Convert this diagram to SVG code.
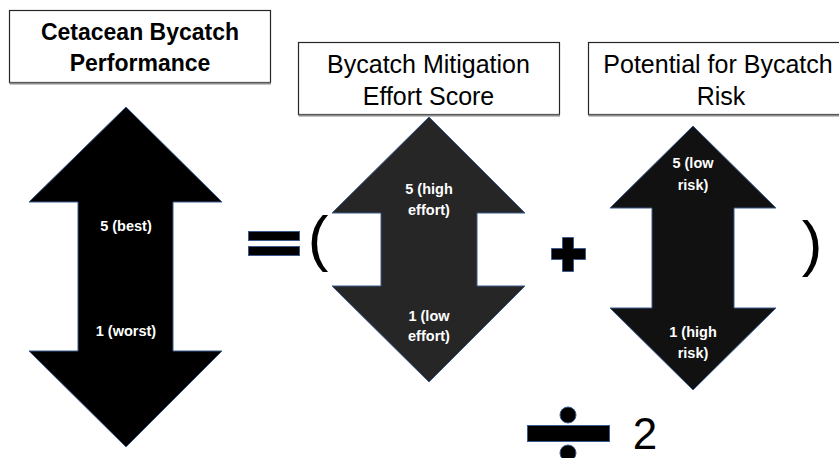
<svg xmlns="http://www.w3.org/2000/svg" width="839" height="458" viewBox="0 0 839 458">
<style>
.box{fill:#fff;stroke:#262626;stroke-width:1.2}
.shadow{stroke:#8c8c8c;stroke-width:2;fill:none}
.title{font-family:"Liberation Sans",Arial,sans-serif;font-size:23px;font-weight:bold;fill:#000;text-anchor:middle}
.head{font-family:"Liberation Sans",Arial,sans-serif;font-size:25px;fill:#000;text-anchor:middle}
.arrow{stroke:#3b5b8c;stroke-width:1}
.lbl{font-family:"Liberation Sans",Arial,sans-serif;font-size:14.5px;font-weight:bold;fill:#fff;text-anchor:middle}
.op{fill:#000;stroke:#3b5b8c;stroke-width:1}
.sym{font-family:"Liberation Sans",Arial,sans-serif;fill:#000;text-anchor:middle}
</style>
<rect width="839" height="458" fill="#fff"/>
<g id="performance">
  <rect class="box" x="9.5" y="10.5" width="261" height="72"/>
  <line class="shadow" x1="9.5" y1="83.5" x2="271" y2="83.5"/>
  <text class="title" x="140" y="40">Cetacean Bycatch</text>
  <text class="title" x="140" y="71">Performance</text>
</g>
<g id="mitigation-title">
  <rect class="box" x="298.5" y="42.5" width="261" height="72"/>
  <line class="shadow" x1="298.5" y1="115.5" x2="560" y2="115.5"/>
  <text class="head" x="428.5" y="73">Bycatch Mitigation</text>
  <text class="head" x="428.5" y="105">Effort Score</text>
</g>
<g id="risk-title">
  <rect class="box" x="588.5" y="42.5" width="262" height="72"/>
  <line class="shadow" x1="588.5" y1="115.5" x2="850" y2="115.5"/>
  <text class="head" x="718" y="73">Potential for Bycatch</text>
  <text class="head" x="721" y="105">Risk</text>
</g>
<g id="performance-arrow">
  <polygon class="arrow" fill="#000" points="126,107 222,202 173,202 173,351 222,351 126,447 29,351 78,351 78,202 29,202"/>
  <text class="lbl" x="126" y="231">5 (best)</text>
  <text class="lbl" x="126" y="336">1 (worst)</text>
</g>
<g id="equals">
  <rect class="op" x="248.5" y="231.5" width="51" height="9"/>
  <rect class="op" x="248.5" y="246.5" width="51" height="9"/>
</g>
<g id="open-paren">
  <text class="sym" x="318" y="259" font-size="62">(</text>
</g>
<g id="mitigation-arrow">
  <polygon class="arrow" fill="#262626" points="429,117 525,213 477,213 477,286 525,286 429,382 332,286 381,286 381,213 332,213"/>
  <text class="lbl" x="429" y="194">5 (high</text>
  <text class="lbl" x="429" y="215">effort)</text>
  <text class="lbl" x="429" y="321">1 (low</text>
  <text class="lbl" x="429" y="341">effort)</text>
</g>
<g id="plus">
  <path class="op" d="M562.5,237.5 H573.5 V248.5 H585.5 V259.5 H573.5 V271.5 H562.5 V259.5 H551.5 V248.5 H562.5 Z"/>
</g>
<g id="risk-arrow">
  <polygon class="arrow" fill="#111" points="693,126 776,208 734,208 734,308 776,308 693,390 610,308 652,308 652,208 610,208"/>
  <text class="lbl" x="693" y="168">5 (low</text>
  <text class="lbl" x="693" y="190">risk)</text>
  <text class="lbl" x="693" y="337">1 (high</text>
  <text class="lbl" x="693" y="358">risk)</text>
</g>
<g id="close-paren">
  <text class="sym" x="812" y="264" font-size="62">)</text>
</g>
<g id="divide">
  <rect class="op" x="527.5" y="425.5" width="82" height="16"/>
  <circle class="op" cx="568" cy="415" r="8"/>
  <circle class="op" cx="568" cy="453" r="8"/>
  <text class="sym" x="645" y="449" font-size="44">2</text>
</g>
<g id="connectors"></g>
</svg>
